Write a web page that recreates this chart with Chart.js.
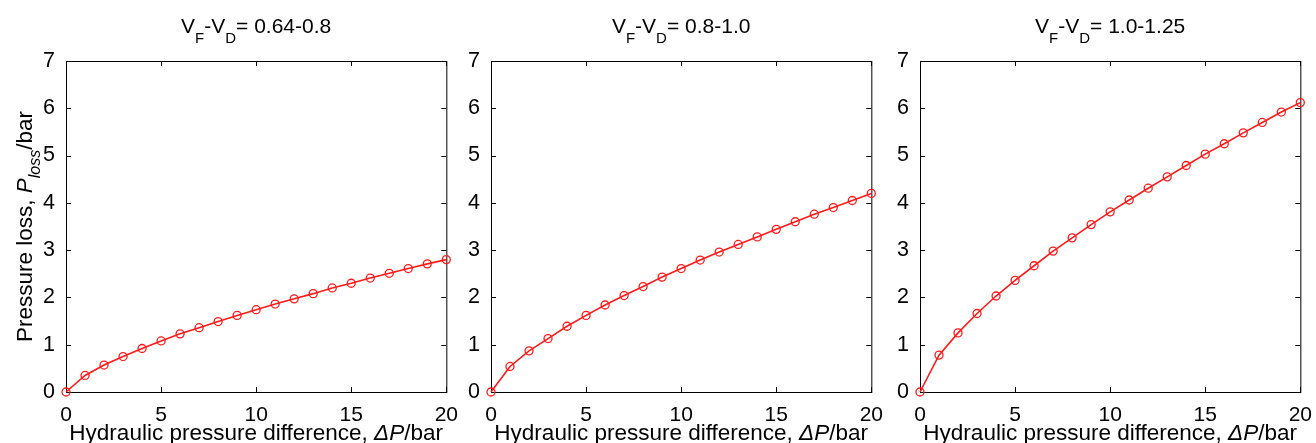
<!DOCTYPE html>
<html>
<head>
<meta charset="utf-8">
<script src="https://cdn.jsdelivr.net/npm/chart.js@4.4.0/dist/chart.umd.min.js"></script>
<style>
html, body { margin: 0; padding: 0; background: #fff; width: 1316px; height: 443px; overflow: hidden; }
canvas { position: absolute; top: 0; }
</style>
</head>
<body>
<canvas id="c1" width="461" height="443" style="left:0px"></canvas>
<canvas id="c2" width="461" height="443" style="left:425px"></canvas>
<canvas id="c3" width="461" height="443" style="left:854px"></canvas>
<script>
// pressure difference dP (bar)
const xValues = [0, 1, 2, 3, 4, 5, 6, 7, 8, 9, 10, 11, 12, 13, 14, 15, 16, 17, 18, 19, 20];
// pressure loss (bar) per VF-VD range
const lossLow = [0, 0.35, 0.57, 0.75, 0.92, 1.08, 1.23, 1.36, 1.49, 1.62, 1.74, 1.86, 1.97, 2.08, 2.20, 2.30, 2.41, 2.51, 2.61, 2.71, 2.80];
const lossMid = [0, 0.54, 0.87, 1.13, 1.39, 1.62, 1.84, 2.04, 2.23, 2.43, 2.61, 2.79, 2.96, 3.12, 3.28, 3.44, 3.60, 3.76, 3.90, 4.05, 4.20];
const lossHigh = [0, 0.78, 1.25, 1.66, 2.03, 2.36, 2.67, 2.98, 3.26, 3.54, 3.81, 4.06, 4.31, 4.55, 4.79, 5.03, 5.25, 5.48, 5.70, 5.92, 6.12];
const ranges = ["0.64-0.8", "0.8-1.0", "1.0-1.25"];
const xTicks = [0, 5, 10, 15, 20];
const yTicks = [0, 1, 2, 3, 4, 5, 6, 7];

const FONT = "'Liberation Sans', Arial, sans-serif";

function drawParts(ctx, parts, cx, baseline) {
    let total = 0;
    parts.forEach(p => {
        ctx.font = (p.italic ? "italic " : "") + p.size + "px " + FONT;
        p.w = ctx.measureText(p.t).width;
        total += p.w;
    });
    let x = cx - total / 2;
    parts.forEach(p => {
        ctx.font = (p.italic ? "italic " : "") + p.size + "px " + FONT;
        ctx.fillText(p.t, x, baseline + (p.dy || 0));
        x += p.w;
    });
}

const boxPlugin = {
    id: "box",
    beforeDatasetsDraw(chart) {
        const { ctx, chartArea: a, scales } = chart;
        ctx.save();
        ctx.strokeStyle = "#000";
        ctx.lineWidth = 1;
        ctx.strokeRect(a.left + 0.5, a.top + 0.5, a.right - a.left, a.bottom - a.top);
        ctx.beginPath();
        xTicks.forEach(v => {
            const x = Math.round(scales.x.getPixelForValue(v)) + 0.5;
            ctx.moveTo(x, a.bottom); ctx.lineTo(x, a.bottom - 5);
            ctx.moveTo(x, a.top); ctx.lineTo(x, a.top + 5);
        });
        yTicks.forEach(v => {
            const y = Math.round(scales.y.getPixelForValue(v)) + 0.5;
            ctx.moveTo(a.left, y); ctx.lineTo(a.left + 5, y);
            ctx.moveTo(a.right, y); ctx.lineTo(a.right - 5, y);
        });
        ctx.stroke();
        ctx.restore();
    },
    afterDraw(chart) {
        const { ctx, chartArea: a } = chart;
        const opts = chart.options.plugins.box;
        const cx = (a.left + a.right) / 2;
        ctx.save();
        ctx.fillStyle = "#000";
        ctx.textBaseline = "alphabetic";
        drawParts(ctx, [
            { t: "V", size: 21 }, { t: "F", size: 15, dy: 10 },
            { t: "-V", size: 21 }, { t: "D", size: 15, dy: 10 },
            { t: "= " + opts.range, size: 21 }
        ], cx, 33);
        drawParts(ctx, [
            { t: "Hydraulic pressure difference, ", size: 22.5 },
            { t: "\u0394P", size: 22.5, italic: true },
            { t: "/bar", size: 22.5 }
        ], cx, 440);
        if (opts.yTitle) {
            ctx.translate(32, (a.top + a.bottom) / 2);
            ctx.rotate(-Math.PI / 2);
            drawParts(ctx, [
                { t: "Pressure loss, ", size: 22.5 },
                { t: "P", size: 22.5, italic: true },
                { t: "loss", size: 16, italic: true, dy: 8 },
                { t: "/bar", size: 22.5 }
            ], 0, 0);
        }
        ctx.restore();
    }
};

function makePanel(id, values, range, yTitle) {
    const points = xValues.map((x, i) => ({ x, y: values[i] }));
    new Chart(document.getElementById(id), {
        type: "line",
        data: {
            datasets: [{
                data: points,
                borderColor: "#ff1a1a",
                borderWidth: 1.6,
                pointRadius: 4,
                pointBorderWidth: 1.3,
                pointBackgroundColor: "rgba(0,0,0,0)",
                pointBorderColor: "#ff1a1a",
                tension: 0,
                clip: false
            }]
        },
        options: {
            responsive: false,
            animation: false,
            layout: { padding: { top: 61, right: 14, left: 0, bottom: 0 } },
            plugins: {
                legend: { display: false },
                tooltip: { enabled: false },
                box: { range, yTitle }
            },
            scales: {
                x: {
                    type: "linear", min: 0, max: 20,
                    grid: { display: false }, border: { display: false },
                    ticks: { stepSize: 5, color: "#000", padding: 3, maxRotation: 0, font: { family: FONT, size: 21 } },
                    afterFit(s) { s.height = 51; }
                },
                y: {
                    min: 0, max: 7,
                    grid: { display: false }, border: { display: false },
                    ticks: { stepSize: 1, color: "#000", padding: 3, font: { family: FONT, size: 21.5 } },
                    afterFit(s) { s.width = 66; }
                }
            }
        },
        plugins: [boxPlugin]
    });
}

makePanel("c1", lossLow, ranges[0], true);
makePanel("c2", lossMid, ranges[1], false);
makePanel("c3", lossHigh, ranges[2], false);
</script>
</body>
</html>
